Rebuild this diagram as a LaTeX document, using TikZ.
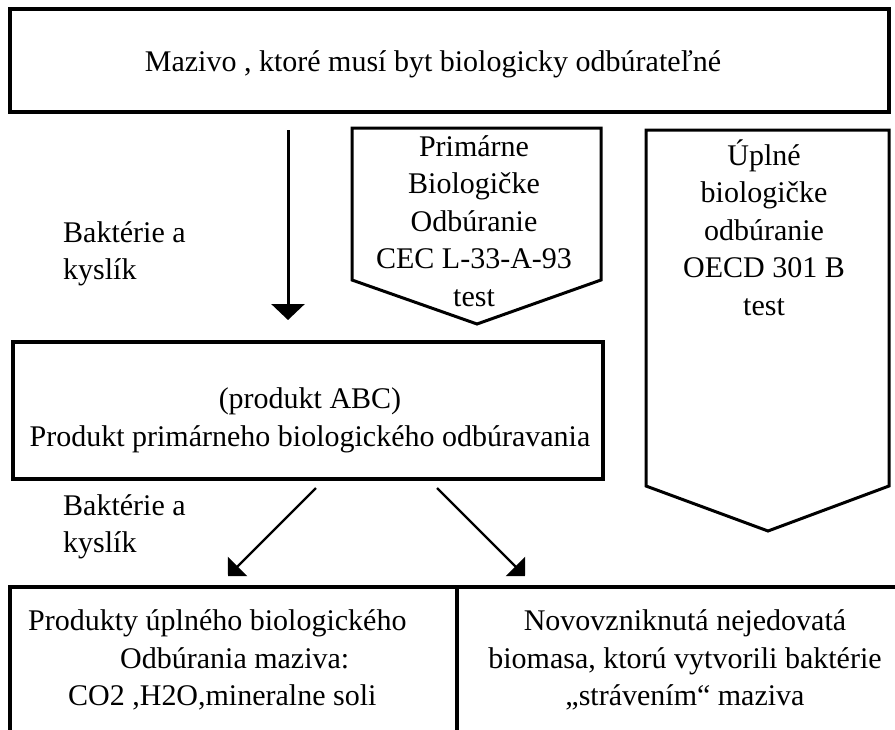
\documentclass[tikz,border=0pt]{standalone}
\usepackage{fontspec}
\setmainfont{Liberation Serif}
\usetikzlibrary{arrows.meta}
\begin{document}
\begin{tikzpicture}[x=1pt,y=-1pt,
  txt/.style={inner sep=0pt, align=center, font=\fontsize{30}{37.5}\selectfont},
  txtl/.style={inner sep=0pt, align=left, anchor=west, font=\fontsize{30}{37.5}\selectfont},
  boxshape/.style={draw, line width=3.7pt, inner sep=0pt, rectangle},
  pentshape/.style={draw, line width=3pt, line join=miter},
  varrow/.style={line width=3pt, -{Triangle[width=33pt,length=16pt]}},
  darrow/.style={line width=2.3pt, -{Triangle[width=27pt,length=13.5pt]}}]
\useasboundingbox (0,0) rectangle (895,729);

% boxes
\node[boxshape, minimum width=879pt, minimum height=103pt] (topbox) at (449.5,60.5) {};
\node[boxshape, minimum width=590pt, minimum height=137pt] (midbox) at (308,410.5) {};
\node[boxshape, minimum width=447pt, minimum height=153pt] (botleft) at (233.5,663.5) {};
\node[boxshape, minimum width=468pt, minimum height=153pt] (botright) at (691,663.5) {};

% pentagons
\coordinate (p1a) at (352,128); \coordinate (p1b) at (601,128);
\coordinate (p1c) at (601,280); \coordinate (p1d) at (477,324);
\coordinate (p1e) at (352,280);
\draw[pentshape] (p1a) -- (p1b) -- (p1c) -- (p1d) -- (p1e) -- cycle;
\coordinate (p2a) at (646,130); \coordinate (p2b) at (889,130);
\coordinate (p2c) at (889,486); \coordinate (p2d) at (768,531);
\coordinate (p2e) at (646,486);
\draw[pentshape] (p2a) -- (p2b) -- (p2c) -- (p2d) -- (p2e) -- cycle;

% texts
\node[txt] (ttop) at (433,63.5) {\strut Mazivo , ktoré musí byt biologicky odbúrateľné};
\node[txtl] (bak1) at (63,253.5) {\strut Baktérie a\\\strut kyslík};
\node[txt] (tp1) at (474,223.5) {\strut Primárne\\\strut Biologičke\\\strut Odbúranie\\\strut CEC L-33-A-93\\\strut test};
\node[txt] (tp2) at (764,232.5) {\strut Úplné\\\strut biologičke\\\strut odbúranie\\\strut OECD 301 B\\\strut test};
\node[txt] (tmid) at (310,420) {\strut (produkt ABC)\\\strut Produkt primárneho biologického odbúravania};
\node[txtl] (bak2) at (63,526.5) {\strut Baktérie a\\\strut kyslík};
\node[txtl] (tbl) at (28,660.5) {\strut Produkty úplného biologického\\\strut\hspace*{92pt}Odbúrania maziva:\\\strut\hspace*{40pt}CO2 ,H2O,mineralne soli};
\node[txt] (tbr) at (685,660.5) {\strut Novovzniknutá nejedovatá\\\strut biomasa, ktorú vytvorili baktérie\\\strut „strávením“ maziva};

% arrows
\coordinate (v1s) at (288,130); \coordinate (v1e) at (288,320);
\draw[varrow] (v1s) -- (v1e);
\coordinate (d1s) at (316,488); \coordinate (d1e) at (228,576);
\draw[darrow] (d1s) -- (d1e);
\coordinate (d2s) at (437,488); \coordinate (d2e) at (525,576);
\draw[darrow] (d2s) -- (d2e);
\end{tikzpicture}
\end{document}
